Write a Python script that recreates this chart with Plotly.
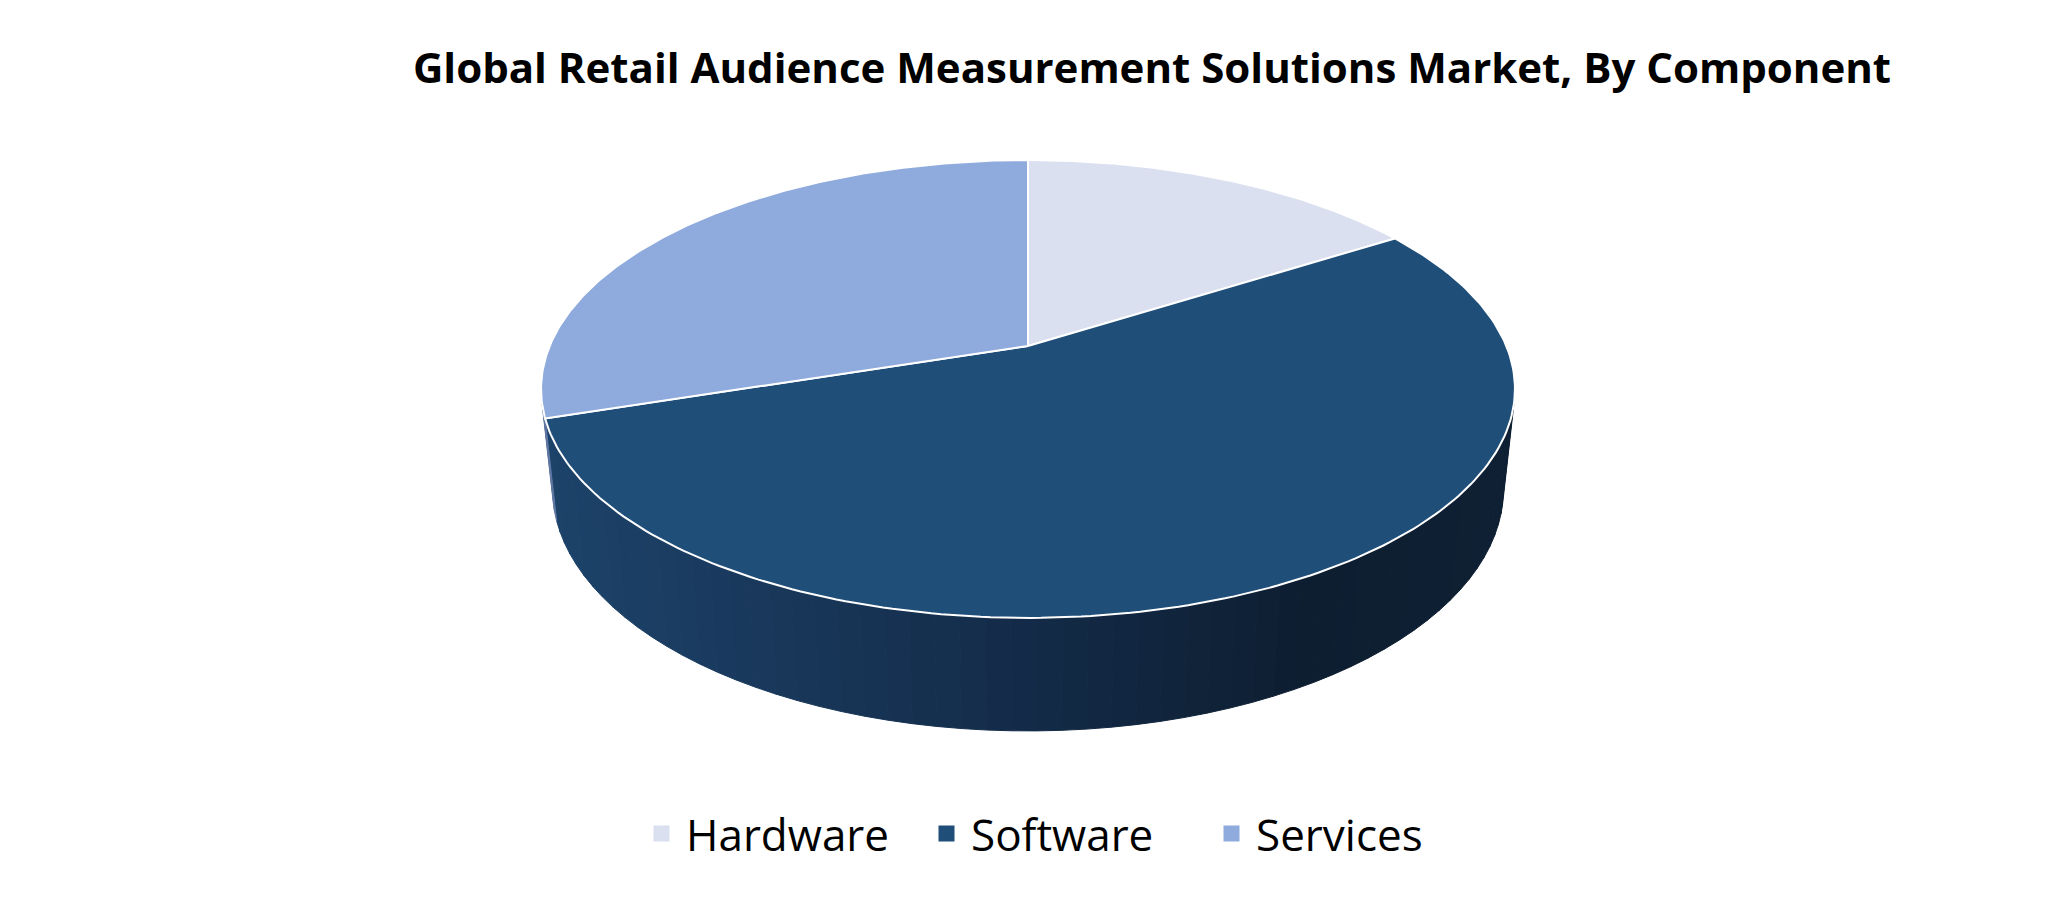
import numpy as np
import plotly.graph_objects as go

# data
categories = ["Hardware", "Software", "Services"]
shares = [16, 54, 30]
title_text = "Global Retail Audience Measurement Solutions Market, By Component"

# styling
top_colors = ["#DAE0F0", "#1F4E79", "#8FAADC"]
wall_stops = [(0.0, "#1D436A"), (0.5, "#132B48"), (0.78, "#0E1E31"), (1.0, "#0F2034")]

W, H = 2056, 907
OFF = 8  # page body margin around the plot div

# fake 3d pie: disk of radius 1 seen from above with a little perspective
CX, CY = 1028, 346
G = 478.3
TILT = np.radians(27.5)
PERSP = 0.2116
DEPTH = 0.2375


def project(theta, z):
    x = np.sin(theta)
    y = np.cos(theta)
    den = 1 + PERSP * (y * np.cos(TILT) - z * np.sin(TILT))
    sx = G * x / den
    sy = G * (y * np.sin(TILT) + z * np.cos(TILT)) / den
    return CX + sx, CY - sy


def hex_to_rgb(h):
    h = h.lstrip("#")
    return [int(h[i:i + 2], 16) for i in (0, 2, 4)]


def wall_color(t):
    for (p0, c0), (p1, c1) in zip(wall_stops[:-1], wall_stops[1:]):
        if p0 <= t <= p1:
            f = (t - p0) / (p1 - p0)
            a, b = hex_to_rgb(c0), hex_to_rgb(c1)
            rgb = [round(a[i] + (b[i] - a[i]) * f) for i in range(3)]
            return "rgb({},{},{})".format(*rgb)
    return wall_stops[-1][1]


fracs = np.array(shares) / sum(shares)
ends = np.cumsum(fracs) * 2 * np.pi
starts = ends - fracs * 2 * np.pi

# part of the side that faces the viewer
lim = np.arccos(-PERSP / np.cos(TILT))
vis_lo, vis_hi = lim, 2 * np.pi - lim
x_left = project(vis_hi, 0)[0]
x_right = project(vis_lo, 0)[0]

fig = go.Figure()

# side walls, cut in thin strips to fake the gradient
for i, name in enumerate(categories):
    a0 = max(starts[i], vis_lo)
    a1 = min(ends[i], vis_hi)
    if a1 <= a0:
        continue
    n = max(2, int((a1 - a0) / np.radians(2.5)))
    edges = np.linspace(a0, a1, n + 1)
    for t0, t1 in zip(edges[:-1], edges[1:]):
        th = np.linspace(t0, t1, 6)
        xt, yt = project(th, 0)
        xb, yb = project(th[::-1], -DEPTH)
        xm = project((t0 + t1) / 2, 0)[0]
        if name == "Software":
            col = wall_color(float(np.clip((xm - x_left) / (x_right - x_left), 0, 1)))
        else:
            col = "#5F77A3"
        fig.add_trace(go.Scatter(
            x=np.concatenate([xt, xb, xt[:1]]),
            y=np.concatenate([yt, yb, yt[:1]]),
            mode="lines", fill="toself", fillcolor=col,
            line=dict(color=col, width=1),
            hoverinfo="skip", showlegend=False,
        ))

# top faces
for i, name in enumerate(categories):
    th = np.linspace(starts[i], ends[i], 200)
    xa, ya = project(th, 0)
    fig.add_trace(go.Scatter(
        x=np.concatenate([[CX], xa, [CX]]),
        y=np.concatenate([[CY], ya, [CY]]),
        mode="lines", fill="toself", fillcolor=top_colors[i],
        line=dict(color="white", width=2),
        name=name, hoverinfo="skip", showlegend=False,
    ))

# legend entries
for i, name in enumerate(categories):
    fig.add_trace(go.Scatter(
        x=[None], y=[None], mode="markers", name=name,
        marker=dict(symbol="square", size=16, color=top_colors[i]),
    ))

fig.update_layout(
    width=W,
    height=H,
    margin=dict(l=0, r=0, t=0, b=0),
    paper_bgcolor="white",
    plot_bgcolor="white",
    font=dict(family="Open Sans", color="black"),
    title=dict(
        text="<b>" + title_text + "</b>",
        x=(1152 - OFF) / W, y=1 - (68 - OFF) / H, xanchor="center", yanchor="middle",
        font=dict(size=42, family="Open Sans", color="black"),
    ),
    legend=dict(
        orientation="h", x=(637 - OFF) / W, y=1 - (834 - OFF) / H,
        xanchor="left", yanchor="middle",
        font=dict(size=44, family="Open Sans", color="black"),
        itemwidth=39,
        entrywidth=231,
    ),
)
fig.update_xaxes(range=[OFF, W + OFF], visible=False, fixedrange=True)
fig.update_yaxes(range=[H + OFF, OFF], visible=False, fixedrange=True)

fig.write_html("out.html")
